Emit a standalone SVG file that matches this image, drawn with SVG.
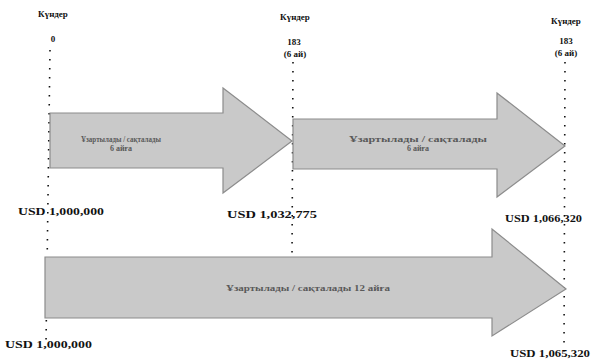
<svg xmlns="http://www.w3.org/2000/svg" width="594" height="360" viewBox="0 0 594 360">
<style>
.lbl{font-family:"Liberation Serif","DejaVu Serif",serif;font-weight:bold;fill:#111;font-size:9px}
.amt{font-family:"Liberation Serif","DejaVu Serif",serif;font-weight:bold;fill:#111;font-size:9.5px}
.atx{font-family:"Liberation Serif","DejaVu Serif",serif;font-weight:bold;fill:#5a5a5a;font-size:8px}
.arrow{fill:#c9c9c9;stroke:#8c8c8c;stroke-width:1.2}
.dots{stroke:#111;stroke-width:1.6;stroke-dasharray:1.6 7.4;fill:none}
</style>
<rect width="594" height="360" fill="#fff"/>
<g id="connectors">
<line class="dots" x1="50" y1="50" x2="46" y2="344"/>
<line class="dots" x1="293" y1="62" x2="292" y2="258"/>
<line class="dots" x1="565" y1="62" x2="564" y2="352"/>
</g>
<g id="arrow1">
<polygon class="arrow" points="50,113 223,113 223,88 292,141 223,193 223,168 50,168"/>
<text class="atx" x="121" y="142" text-anchor="middle" textLength="80" lengthAdjust="spacingAndGlyphs">Ұзартылады / сақталады</text>
<text class="atx" x="121" y="151" text-anchor="middle">6 айға</text>
</g>
<g id="arrow2">
<polygon class="arrow" points="293,119 497,119 497,93 565,146 497,197 497,169 293,169"/>
<text class="atx" x="418" y="142" text-anchor="middle" textLength="138" lengthAdjust="spacingAndGlyphs">Ұзартылады / сақталады</text>
<text class="atx" x="418" y="151" text-anchor="middle">6 айға</text>
</g>
<g id="arrow3">
<polygon class="arrow" points="45,257 492,257 492,229 566,289 492,336 492,318 45,318"/>
<text class="atx" x="308" y="291" text-anchor="middle" textLength="164" lengthAdjust="spacingAndGlyphs">Ұзартылады / сақталады 12 айға</text>
</g>
<g id="day0">
<text class="lbl" x="53" y="17" text-anchor="middle">Күндер</text>
<text class="lbl" x="53" y="42" text-anchor="middle">0</text>
</g>
<g id="day183a">
<text class="lbl" x="295" y="20" text-anchor="middle">Күндер</text>
<text class="lbl" x="294" y="45" text-anchor="middle">183</text>
<text class="lbl" x="295" y="57" text-anchor="middle">(6 ай)</text>
</g>
<g id="day183b">
<text class="lbl" x="566" y="24" text-anchor="middle">Күндер</text>
<text class="lbl" x="566" y="44" text-anchor="middle">183</text>
<text class="lbl" x="566" y="56" text-anchor="middle">(6 ай)</text>
</g>
<g id="amounts">
<text class="amt" x="18" y="215" textLength="86" lengthAdjust="spacingAndGlyphs">USD 1,000,000</text>
<text class="amt" x="227" y="218" textLength="90" lengthAdjust="spacingAndGlyphs">USD 1,032,775</text>
<text class="amt" x="505" y="222" textLength="77" lengthAdjust="spacingAndGlyphs">USD 1,066,320</text>
<text class="amt" x="5" y="348" textLength="87" lengthAdjust="spacingAndGlyphs">USD 1,000,000</text>
<text class="amt" x="510" y="357" textLength="80" lengthAdjust="spacingAndGlyphs">USD 1,065,320</text>
</g>
</svg>
